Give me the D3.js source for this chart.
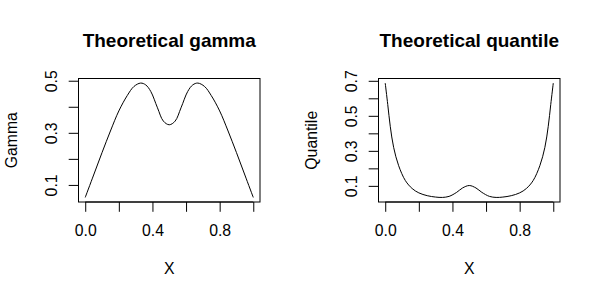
<!DOCTYPE html>
<html>
<head>
<meta charset="utf-8">
<script src="https://cdn.jsdelivr.net/npm/d3@7"></script>
<style>
  body { margin: 0; background: #fff; }
  svg { display: block; font-family: "Liberation Sans", Arial, sans-serif; }
</style>
</head>
<body>
<div id="chart"></div>
<script>
// values
var gammaX = [0, 0.05, 0.1, 0.15, 0.2, 0.25, 0.29, 0.33, 0.36, 0.39, 0.43, 0.465, 0.5,
              0.535, 0.57, 0.61, 0.64, 0.67, 0.71, 0.75, 0.8, 0.85, 0.9, 0.95, 1];
var gammaY = [0.052, 0.138, 0.224, 0.307, 0.384, 0.443, 0.478, 0.491, 0.484, 0.459, 0.396, 0.345, 0.331,
              0.345, 0.396, 0.459, 0.484, 0.491, 0.478, 0.443, 0.384, 0.307, 0.224, 0.138, 0.052];

var quantX = [0, 0.015, 0.03, 0.05, 0.08, 0.12, 0.16, 0.2, 0.25, 0.3, 0.34, 0.38, 0.425, 0.46, 0.5,
              0.54, 0.575, 0.62, 0.66, 0.7, 0.75, 0.8, 0.84, 0.88, 0.92, 0.95, 0.97, 0.985, 1];
var quantY = [0.687, 0.565, 0.44, 0.32, 0.215, 0.13, 0.085, 0.06, 0.044, 0.036, 0.034, 0.040, 0.063, 0.088, 0.102,
              0.088, 0.063, 0.040, 0.034, 0.036, 0.044, 0.06, 0.085, 0.13, 0.215, 0.32, 0.44, 0.565, 0.687];

var xTicks = [0, 0.2, 0.4, 0.6, 0.8, 1.0];
var xLabels = ["0.0", "", "0.4", "", "0.8", ""];
var gammaTicks = [0.1, 0.2, 0.3, 0.4, 0.5];
var gammaLabels = ["0.1", "", "0.3", "", "0.5"];
var quantTicks = [0.1, 0.2, 0.3, 0.4, 0.5, 0.6, 0.7];
var quantLabels = ["0.1", "", "0.3", "", "0.5", "", "0.7"];

var svg = d3.select("#chart")
  .append("svg")
    .attr("width", 600)
    .attr("height", 300);

// plot box inside each 300px panel
var box = {left: 78.5, right: 260, top: 78.5, bottom: 202};

function drawPanel(offset, title, ylab, xs, ys, yTicks, yLabels) {
  var g = svg.append("g")
    .attr("transform", "translate(" + offset + ",0)");

  // R style: 4% padding around the data range
  var x = d3.scaleLinear()
    .domain([-0.04, 1.04])
    .range([box.left, box.right]);

  var ext = d3.extent(ys);
  var pad = (ext[1] - ext[0]) * 0.04;
  var y = d3.scaleLinear()
    .domain([ext[0] - pad, ext[1] + pad])
    .range([box.bottom, box.top]);

  // curve
  var line = d3.line()
    .x(function(d) { return x(d[0]); })
    .y(function(d) { return y(d[1]); })
    .curve(d3.curveCatmullRom.alpha(0.5));

  g.append("path")
    .datum(d3.zip(xs, ys))
    .attr("d", line)
    .attr("fill", "none")
    .attr("stroke", "#000")
    .attr("stroke-width", 1);

  // frame
  g.append("rect")
    .attr("x", box.left)
    .attr("y", box.top)
    .attr("width", box.right - box.left)
    .attr("height", box.bottom - box.top)
    .attr("fill", "none")
    .attr("stroke", "#000")
    .attr("stroke-width", 1);

  // x axis
  var xa = g.append("g")
    .attr("transform", "translate(0," + box.bottom + ")")
    .call(d3.axisBottom(x)
      .tickValues(xTicks)
      .tickSize(9.8)
      .tickSizeOuter(0)
      .tickFormat(function(d, i) { return xLabels[i]; }));
  xa.select(".domain")
    .attr("d", "M" + x(xTicks[0]) + ",0H" + x(xTicks[xTicks.length - 1]));
  xa.selectAll("line, .domain").attr("stroke", "#000");
  xa.selectAll("text")
    .attr("y", 34)
    .attr("dy", 0)
    .attr("fill", "#000")
    .style("font-size", "15.8px");

  // y axis
  var ya = g.append("g")
    .attr("transform", "translate(" + box.left + ",0)")
    .call(d3.axisLeft(y)
      .tickValues(yTicks)
      .tickSize(9.8)
      .tickSizeOuter(0)
      .tickFormat(function(d, i) { return yLabels[i]; }));
  ya.select(".domain")
    .attr("d", "M0," + y(yTicks[0]) + "V" + y(yTicks[yTicks.length - 1]));
  ya.selectAll("line, .domain").attr("stroke", "#000");
  ya.selectAll("text")
    .attr("x", 0)
    .attr("dy", 0)
    .attr("text-anchor", "middle")
    .attr("transform", "translate(-21.8,0) rotate(-90)")
    .attr("fill", "#000")
    .style("font-size", "15.8px");

  // titles
  g.append("text")
    .attr("x", (box.left + box.right) / 2)
    .attr("y", 46.7)
    .attr("text-anchor", "middle")
    .style("font-size", "19px")
    .style("font-weight", "bold")
    .text(title);

  g.append("text")
    .attr("x", (box.left + box.right) / 2)
    .attr("y", 274)
    .attr("text-anchor", "middle")
    .style("font-size", "15.8px")
    .text("X");

  g.append("text")
    .attr("transform", "translate(17.3," + (box.top + box.bottom) / 2 + ") rotate(-90)")
    .attr("text-anchor", "middle")
    .style("font-size", "15.8px")
    .text(ylab);
}

drawPanel(0, "Theoretical gamma", "Gamma", gammaX, gammaY, gammaTicks, gammaLabels);
drawPanel(300, "Theoretical quantile", "Quantile", quantX, quantY, quantTicks, quantLabels);
</script>
</body>
</html>
